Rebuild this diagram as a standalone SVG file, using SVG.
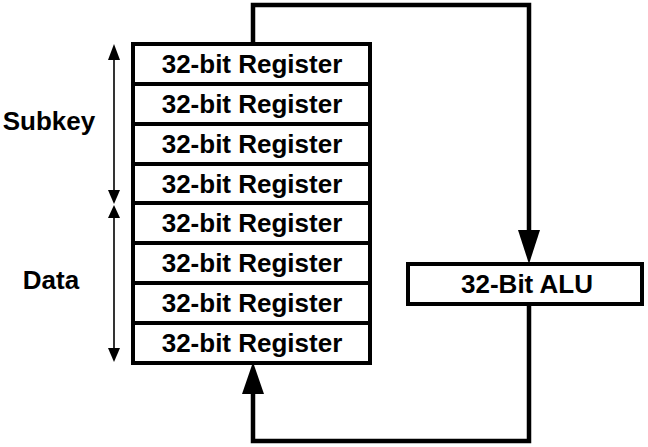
<svg xmlns="http://www.w3.org/2000/svg" width="648" height="447" viewBox="0 0 648 447">
<style>
text{font-family:"Liberation Sans",Arial,sans-serif;font-weight:bold;font-size:26px;fill:#000;text-anchor:middle}
.box{fill:#fff;stroke:#000;stroke-width:4}
.div{stroke:#000;stroke-width:4}
.wire{fill:none;stroke:#000;stroke-width:4.5}
.thin{fill:none;stroke:#000;stroke-width:1.6}
</style>
<rect width="648" height="447" fill="#fff"/>
<g id="connectors">
<path class="wire" d="M253 44 V5 H529 V234"/>
<polygon points="518,230 540,230 529,264"/>
<path class="wire" d="M529 304 V441 H253 V390"/>
<polygon points="242,394 264,394 253,362"/>
<line class="thin" x1="114" y1="56" x2="114" y2="194"/>
<polygon points="108,60 120,60 114,44"/>
<polygon points="108,190 120,190 114,204"/>
<line class="thin" x1="114" y1="214" x2="114" y2="352"/>
<polygon points="108,218 120,218 114,205"/>
<polygon points="108,348 120,348 114,362"/>
</g>
<g id="registers">
<rect class="box" x="133" y="44" width="237" height="319"/>
<line class="div" x1="133" y1="84" x2="370" y2="84"/>
<line class="div" x1="133" y1="124" x2="370" y2="124"/>
<line class="div" x1="133" y1="164" x2="370" y2="164"/>
<line class="div" x1="133" y1="203" x2="370" y2="203"/>
<line class="div" x1="133" y1="243" x2="370" y2="243"/>
<line class="div" x1="133" y1="283" x2="370" y2="283"/>
<line class="div" x1="133" y1="323" x2="370" y2="323"/>
<text x="252" y="73">32-bit Register</text>
<text x="252" y="113">32-bit Register</text>
<text x="252" y="153">32-bit Register</text>
<text x="252" y="193">32-bit Register</text>
<text x="252" y="232">32-bit Register</text>
<text x="252" y="272">32-bit Register</text>
<text x="252" y="312">32-bit Register</text>
<text x="252" y="352">32-bit Register</text>
</g>
<g id="alu">
<rect class="box" x="408" y="264" width="234" height="40"/>
<text x="527" y="293">32-Bit ALU</text>
</g>
<g id="labels">
<text x="49" y="130" font-size="25">Subkey</text>
<text x="51" y="289" font-size="25">Data</text>
</g>
</svg>
